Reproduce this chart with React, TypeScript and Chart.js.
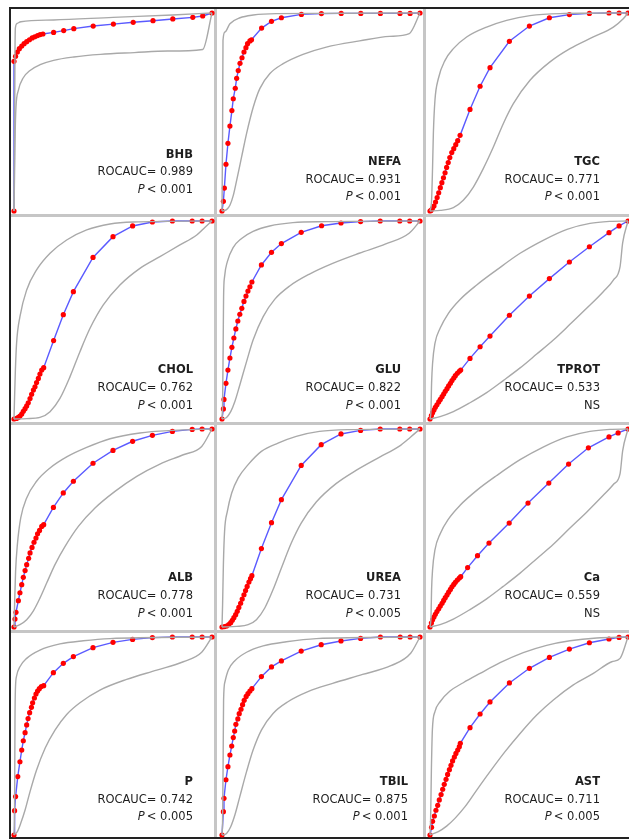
import React, { useEffect, useRef } from "react";
import { Chart, registerables } from "chart.js";

Chart.register(...registerables);

type Pt = [number, number];

// ---------- BHB ----------
const bhbRoc: Pt[] = [[0,0],[0,0.756],[0.008,0.781],[0.017,0.803],[0.027,0.82],[0.039,0.833],[0.051,0.845],[0.064,0.855],[0.078,0.865],[0.092,0.874],[0.105,0.88],[0.119,0.886],[0.132,0.891],[0.146,0.894],[0.2,0.902],[0.251,0.911],[0.302,0.921],[0.4,0.934],[0.502,0.944],[0.602,0.953],[0.702,0.961],[0.802,0.97],[0.903,0.978],[0.953,0.985],[1,1]];
const bhbUpper: Pt[] = [[0,0],[0.003,0.4],[0.005,0.8],[0.007,0.925],[0.015,0.947],[0.035,0.956],[0.2,0.965],[0.5,0.978],[0.8,0.99],[1,1]];
const bhbLower: Pt[] = [[0,0],[0.003,0.2],[0.006,0.4],[0.01,0.525],[0.022,0.609],[0.047,0.673],[0.081,0.71],[0.132,0.739],[0.2,0.761],[0.302,0.778],[0.437,0.791],[0.607,0.8],[0.776,0.808],[0.953,0.816],[1,1]];

// ---------- NEFA ----------
const nefaRoc: Pt[] = [[0,0],[0.007,0.049],[0.012,0.116],[0.02,0.236],[0.03,0.342],[0.04,0.429],[0.05,0.507],[0.057,0.567],[0.067,0.62],[0.074,0.67],[0.082,0.709],[0.091,0.746],[0.101,0.774],[0.111,0.803],[0.121,0.825],[0.129,0.845],[0.141,0.859],[0.149,0.865],[0.2,0.924],[0.25,0.958],[0.3,0.976],[0.401,0.993],[0.502,0.997],[0.602,0.998],[0.701,0.998],[0.8,0.998],[0.899,0.998],[0.95,0.998],[1,1]];
const nefaUpper: Pt[] = [[0,0],[0.003,0.4],[0.005,0.862],[0.015,0.904],[0.04,0.946],[0.091,0.976],[0.158,0.99],[0.275,0.997],[1,1]];
const nefaLower: Pt[] = [[0,0],[0.023,0.007],[0.04,0.029],[0.057,0.079],[0.074,0.155],[0.099,0.273],[0.124,0.391],[0.158,0.525],[0.191,0.618],[0.242,0.694],[0.309,0.744],[0.409,0.791],[0.527,0.828],[0.695,0.859],[0.846,0.882],[0.946,0.896],[1,1]];

// ---------- TGC ----------
const tgcRoc: Pt[] = [[0,0],[0.005,0.003],[0.012,0.012],[0.02,0.025],[0.028,0.045],[0.036,0.068],[0.044,0.092],[0.052,0.118],[0.06,0.143],[0.068,0.168],[0.076,0.193],[0.084,0.22],[0.092,0.245],[0.1,0.27],[0.11,0.295],[0.12,0.315],[0.13,0.335],[0.14,0.355],[0.152,0.382],[0.202,0.513],[0.253,0.63],[0.303,0.724],[0.401,0.857],[0.502,0.934],[0.603,0.976],[0.704,0.992],[0.805,0.998],[0.904,1],[0.955,1],[1,1]];
const tgcUpper: Pt[] = [[0,0],[0.008,0.054],[0.013,0.222],[0.017,0.391],[0.025,0.559],[0.042,0.668],[0.076,0.761],[0.118,0.82],[0.185,0.879],[0.286,0.929],[0.387,0.963],[0.505,0.987],[0.657,0.997],[1,1]];
const tgcLower: Pt[] = [[0,0],[0.051,0.003],[0.118,0.017],[0.168,0.054],[0.219,0.121],[0.269,0.214],[0.32,0.323],[0.37,0.441],[0.421,0.542],[0.505,0.66],[0.606,0.753],[0.707,0.82],[0.825,0.879],[0.926,0.929],[0.976,0.971],[1,1]];

// ---------- CHOL ----------
const cholRoc: Pt[] = [[0,0],[0.013,0.003],[0.022,0.008],[0.03,0.015],[0.039,0.025],[0.047,0.039],[0.056,0.052],[0.064,0.066],[0.072,0.082],[0.081,0.103],[0.089,0.125],[0.098,0.146],[0.106,0.163],[0.114,0.184],[0.123,0.205],[0.131,0.227],[0.14,0.247],[0.15,0.259],[0.2,0.396],[0.249,0.527],[0.3,0.643],[0.399,0.816],[0.5,0.921],[0.599,0.975],[0.699,0.995],[0.8,1],[0.9,1],[0.95,1],[1,1]];
const cholUpper: Pt[] = [[0,0],[0.003,0.113],[0.007,0.247],[0.013,0.382],[0.03,0.517],[0.064,0.652],[0.114,0.753],[0.182,0.837],[0.266,0.904],[0.367,0.955],[0.485,0.985],[0.603,0.995],[1,1]];
const cholLower: Pt[] = [[0,0],[0.064,0.002],[0.131,0.008],[0.182,0.037],[0.232,0.104],[0.283,0.214],[0.333,0.34],[0.384,0.458],[0.451,0.576],[0.535,0.677],[0.636,0.761],[0.737,0.82],[0.838,0.879],[0.923,0.929],[0.965,0.968],[1,1]];

// ---------- GLU ----------
const gluRoc: Pt[] = [[0,0],[0.007,0.051],[0.01,0.099],[0.02,0.18],[0.03,0.247],[0.04,0.308],[0.05,0.362],[0.06,0.409],[0.07,0.455],[0.08,0.495],[0.09,0.529],[0.1,0.559],[0.111,0.594],[0.121,0.621],[0.131,0.646],[0.141,0.668],[0.151,0.692],[0.199,0.778],[0.25,0.842],[0.3,0.886],[0.4,0.943],[0.503,0.976],[0.601,0.99],[0.7,0.997],[0.799,1],[0.898,1],[0.948,1],[1,1]];
const gluUpper: Pt[] = [[0,0],[0.003,0.079],[0.006,0.382],[0.008,0.618],[0.013,0.719],[0.027,0.795],[0.057,0.867],[0.099,0.912],[0.157,0.948],[0.241,0.975],[0.358,0.992],[0.526,0.997],[1,1]];
const gluLower: Pt[] = [[0,0],[0.023,0.008],[0.044,0.037],[0.065,0.088],[0.09,0.172],[0.124,0.29],[0.157,0.399],[0.208,0.517],[0.266,0.604],[0.342,0.672],[0.442,0.732],[0.559,0.786],[0.693,0.837],[0.827,0.884],[0.945,0.938],[1,1]];

// ---------- TPROT ----------
const tprotRoc: Pt[] = [[0,0],[0.007,0.017],[0.013,0.032],[0.02,0.045],[0.027,0.059],[0.035,0.072],[0.044,0.086],[0.052,0.099],[0.061,0.113],[0.069,0.126],[0.077,0.14],[0.086,0.153],[0.094,0.167],[0.103,0.18],[0.111,0.194],[0.12,0.207],[0.128,0.219],[0.138,0.231],[0.148,0.241],[0.155,0.247],[0.202,0.306],[0.253,0.365],[0.303,0.419],[0.401,0.524],[0.502,0.621],[0.603,0.709],[0.704,0.793],[0.805,0.87],[0.904,0.941],[0.955,0.975],[1,1]];
const tprotUpper: Pt[] = [[0,0],[0.005,0.045],[0.008,0.18],[0.013,0.281],[0.025,0.382],[0.051,0.458],[0.093,0.534],[0.152,0.604],[0.236,0.677],[0.337,0.753],[0.455,0.837],[0.574,0.904],[0.692,0.958],[0.808,0.988],[0.909,0.998],[1,1]];
const tprotLower: Pt[] = [[0,0],[0.051,0.012],[0.118,0.037],[0.202,0.082],[0.286,0.133],[0.37,0.194],[0.455,0.258],[0.539,0.328],[0.623,0.399],[0.707,0.478],[0.791,0.559],[0.875,0.643],[0.926,0.702],[0.96,0.77],[0.973,0.889],[1,1]];

// ---------- ALB ----------
const albRoc: Pt[] = [[0,0],[0.005,0.04],[0.01,0.074],[0.022,0.133],[0.03,0.173],[0.039,0.214],[0.047,0.251],[0.056,0.285],[0.064,0.315],[0.074,0.347],[0.081,0.374],[0.091,0.402],[0.101,0.428],[0.111,0.449],[0.119,0.471],[0.129,0.488],[0.14,0.508],[0.15,0.517],[0.199,0.604],[0.249,0.677],[0.3,0.736],[0.399,0.827],[0.5,0.892],[0.599,0.938],[0.699,0.968],[0.8,0.988],[0.9,0.998],[0.95,1],[1,1]];
const albUpper: Pt[] = [[0,0],[0.003,0.113],[0.008,0.281],[0.017,0.416],[0.034,0.551],[0.064,0.652],[0.114,0.736],[0.182,0.803],[0.266,0.859],[0.367,0.907],[0.485,0.951],[0.636,0.98],[0.805,0.993],[1,1]];
const albLower: Pt[] = [[0,0],[0.03,0.012],[0.064,0.037],[0.098,0.082],[0.131,0.146],[0.165,0.222],[0.207,0.315],[0.258,0.407],[0.325,0.508],[0.409,0.601],[0.51,0.685],[0.62,0.761],[0.737,0.823],[0.855,0.87],[0.948,0.912],[1,1]];

// ---------- UREA ----------
const ureaRoc: Pt[] = [[0,0],[0.013,0.002],[0.023,0.005],[0.034,0.012],[0.044,0.022],[0.052,0.034],[0.06,0.047],[0.069,0.062],[0.077,0.079],[0.085,0.099],[0.094,0.12],[0.102,0.141],[0.111,0.163],[0.119,0.184],[0.127,0.205],[0.136,0.227],[0.144,0.244],[0.151,0.259],[0.199,0.396],[0.25,0.527],[0.3,0.643],[0.4,0.816],[0.501,0.921],[0.601,0.975],[0.7,0.993],[0.799,1],[0.898,1],[0.948,1],[1,1]];
const ureaUpper: Pt[] = [[0,0],[0.003,0.113],[0.007,0.315],[0.013,0.483],[0.027,0.584],[0.049,0.677],[0.082,0.753],[0.132,0.82],[0.199,0.887],[0.283,0.929],[0.375,0.963],[0.492,0.988],[0.643,0.997],[1,1]];
const ureaLower: Pt[] = [[0,0],[0.074,0.003],[0.132,0.012],[0.174,0.037],[0.216,0.096],[0.258,0.189],[0.3,0.298],[0.35,0.424],[0.4,0.525],[0.476,0.631],[0.576,0.724],[0.677,0.791],[0.794,0.857],[0.894,0.912],[0.953,0.96],[1,1]];

// ---------- Ca ----------
const caRoc: Pt[] = [[0,0],[0.007,0.02],[0.013,0.036],[0.02,0.05],[0.027,0.064],[0.035,0.078],[0.044,0.092],[0.052,0.106],[0.061,0.12],[0.069,0.134],[0.077,0.148],[0.086,0.162],[0.094,0.176],[0.103,0.19],[0.111,0.203],[0.12,0.215],[0.128,0.226],[0.138,0.237],[0.148,0.247],[0.155,0.254],[0.19,0.3],[0.24,0.36],[0.298,0.424],[0.4,0.525],[0.495,0.626],[0.6,0.727],[0.7,0.823],[0.8,0.905],[0.904,0.96],[0.95,0.98],[1,1]];
const caUpper: Pt[] = [[0,0],[0.005,0.05],[0.008,0.19],[0.013,0.29],[0.025,0.39],[0.051,0.47],[0.093,0.545],[0.152,0.615],[0.236,0.69],[0.337,0.765],[0.455,0.845],[0.574,0.91],[0.692,0.96],[0.808,0.988],[0.909,0.998],[1,1]];
const caLower: Pt[] = [[0,0],[0.051,0.012],[0.118,0.04],[0.202,0.088],[0.286,0.142],[0.37,0.205],[0.455,0.272],[0.539,0.345],[0.623,0.418],[0.707,0.5],[0.791,0.58],[0.875,0.665],[0.926,0.72],[0.96,0.775],[0.973,0.89],[1,1]];

// ---------- P ----------
const pRoc: Pt[] = [[0,0],[0.003,0.123],[0.008,0.194],[0.019,0.295],[0.03,0.37],[0.039,0.429],[0.047,0.476],[0.056,0.517],[0.064,0.556],[0.071,0.588],[0.079,0.618],[0.088,0.645],[0.094,0.668],[0.103,0.692],[0.111,0.712],[0.119,0.727],[0.128,0.739],[0.138,0.75],[0.15,0.754],[0.199,0.82],[0.249,0.867],[0.3,0.901],[0.399,0.946],[0.5,0.973],[0.599,0.988],[0.699,0.997],[0.8,1],[0.9,1],[0.95,1],[1,1]];
const pUpper: Pt[] = [[0,0],[0.003,0.143],[0.005,0.581],[0.007,0.732],[0.013,0.803],[0.03,0.85],[0.064,0.892],[0.131,0.934],[0.232,0.965],[0.35,0.981],[0.485,0.992],[1,1]];
const pLower: Pt[] = [[0,0],[0.017,0.017],[0.034,0.059],[0.056,0.126],[0.081,0.219],[0.114,0.328],[0.157,0.438],[0.207,0.53],[0.266,0.609],[0.333,0.668],[0.434,0.732],[0.569,0.786],[0.721,0.833],[0.855,0.875],[0.948,0.923],[1,1]];

// ---------- TBIL ----------
const tbilRoc: Pt[] = [[0,0],[0.007,0.118],[0.01,0.185],[0.02,0.279],[0.03,0.345],[0.04,0.404],[0.049,0.449],[0.057,0.492],[0.064,0.525],[0.07,0.559],[0.08,0.586],[0.087,0.613],[0.096,0.635],[0.104,0.658],[0.112,0.68],[0.122,0.7],[0.131,0.714],[0.141,0.727],[0.151,0.739],[0.199,0.8],[0.25,0.849],[0.3,0.879],[0.4,0.929],[0.501,0.961],[0.601,0.98],[0.7,0.993],[0.8,1],[0.9,1],[0.95,1],[1,1]];
const tbilUpper: Pt[] = [[0,0],[0.003,0.076],[0.006,0.412],[0.008,0.682],[0.015,0.774],[0.032,0.833],[0.065,0.88],[0.124,0.923],[0.208,0.955],[0.325,0.976],[0.476,0.992],[1,1]];
const tbilLower: Pt[] = [[0,0],[0.023,0.008],[0.044,0.042],[0.065,0.101],[0.09,0.194],[0.124,0.32],[0.157,0.429],[0.199,0.53],[0.258,0.614],[0.333,0.673],[0.434,0.724],[0.559,0.766],[0.71,0.811],[0.853,0.855],[0.953,0.918],[1,1]];

// ---------- AST ----------
const astRoc: Pt[] = [[0,0],[0.008,0.039],[0.013,0.069],[0.022,0.096],[0.03,0.125],[0.039,0.15],[0.047,0.177],[0.056,0.204],[0.064,0.231],[0.072,0.256],[0.081,0.281],[0.089,0.306],[0.098,0.33],[0.106,0.352],[0.114,0.374],[0.123,0.394],[0.131,0.412],[0.14,0.429],[0.148,0.446],[0.153,0.463],[0.202,0.542],[0.253,0.611],[0.303,0.672],[0.401,0.768],[0.502,0.842],[0.603,0.897],[0.704,0.939],[0.805,0.971],[0.904,0.99],[0.955,0.998],[1,1]];
const astUpper: Pt[] = [[0,0],[0.003,0.076],[0.007,0.328],[0.012,0.53],[0.025,0.623],[0.051,0.673],[0.101,0.727],[0.168,0.769],[0.253,0.816],[0.354,0.87],[0.471,0.921],[0.589,0.958],[0.707,0.981],[0.842,0.995],[1,1]];
const astLower: Pt[] = [[0,0],[0.042,0.017],[0.084,0.045],[0.126,0.084],[0.177,0.143],[0.236,0.227],[0.303,0.32],[0.379,0.421],[0.455,0.513],[0.539,0.606],[0.623,0.682],[0.724,0.758],[0.825,0.816],[0.918,0.875],[0.96,0.892],[1,1]];

// ---------- labels ----------
const panelNames = ["BHB", "NEFA", "TGC", "CHOL", "GLU", "TPROT", "ALB", "UREA", "Ca", "P", "TBIL", "AST"];
const aucValues = ["0.989", "0.931", "0.771", "0.762", "0.822", "0.533", "0.778", "0.731", "0.559", "0.742", "0.875", "0.711"];
const pValues = ["0.001", "0.001", "0.001", "0.001", "0.001", "NS", "0.001", "0.005", "NS", "0.005", "0.001", "0.005"];
const rocCurves = [bhbRoc, nefaRoc, tgcRoc, cholRoc, gluRoc, tprotRoc, albRoc, ureaRoc, caRoc, pRoc, tbilRoc, astRoc];
const upperCurves = [bhbUpper, nefaUpper, tgcUpper, cholUpper, gluUpper, tprotUpper, albUpper, ureaUpper, caUpper, pUpper, tbilUpper, astUpper];
const lowerCurves = [bhbLower, nefaLower, tgcLower, cholLower, gluLower, tprotLower, albLower, ureaLower, caLower, pLower, tbilLower, astLower];

// ---------- layout (pixels) ----------
const PLOT = 198;
const STEP = 208;
const PAD = 5;
const ORIGIN_X = 14;
const ORIGIN_Y = 13;
const textRight = [179, 179, 170, 179, 179, 170, 179, 179, 170, 179, 186, 170];
const textBase = [
  [-53, -36, -18], [-46, -28, -11], [-46, -28, -11],
  [-46, -28, -10], [-46, -28, -10], [-46, -28, -10],
  [-46, -28, -10], [-46, -28, -10], [-46, -28, -10],
  [-50, -32, -15], [-50, -32, -15], [-50, -32, -15],
];

const FONT = "'DejaVu Sans', sans-serif";
const FONT_SIZE = "11.5px";

function Panel({ index }: { index: number }) {
  const ref = useRef<HTMLCanvasElement | null>(null);
  const col = index % 3;
  const row = Math.floor(index / 3);
  const left = ORIGIN_X + STEP * col - PAD;
  const top = ORIGIN_Y + STEP * row - PAD;
  const size = PLOT + PAD * 2;

  useEffect(() => {
    if (!ref.current) return;
    const toXY = (arr: Pt[]) => arr.map(([x, y]) => ({ x, y }));
    const textPlugin = {
      id: "rocText",
      afterDraw(chart: any) {
        const { ctx, chartArea } = chart;
        const xr = chartArea.left + textRight[index];
        const b = chartArea.bottom;
        const [b1, b2, b3] = textBase[index];
        ctx.save();
        ctx.fillStyle = "#1e1e1e";
        ctx.textAlign = "right";
        ctx.textBaseline = "alphabetic";
        ctx.font = `bold ${FONT_SIZE} ${FONT}`;
        ctx.fillText(panelNames[index], xr, b + b1);
        ctx.font = `${FONT_SIZE} ${FONT}`;
        ctx.fillText(`ROCAUC= ${aucValues[index]}`, xr, b + b2);
        const pv = pValues[index];
        if (pv === "NS") {
          ctx.fillText("NS", xr, b + b3);
        } else {
          const rest = `< ${pv}`;
          ctx.fillText(rest, xr, b + b3);
          const w = ctx.measureText(rest).width;
          ctx.font = `italic ${FONT_SIZE} ${FONT}`;
          ctx.fillText("P", xr - w - 2, b + b3);
        }
        ctx.restore();
      },
    };
    const chart = new Chart(ref.current, {
      type: "scatter",
      data: {
        datasets: [
          {
            data: toXY(lowerCurves[index]),
            showLine: true,
            borderColor: "#a9a9a9",
            borderWidth: 1.4,
            pointRadius: 0,
            cubicInterpolationMode: "monotone",
            clip: false,
          } as any,
          {
            data: toXY(upperCurves[index]),
            showLine: true,
            borderColor: "#a9a9a9",
            borderWidth: 1.4,
            pointRadius: 0,
            cubicInterpolationMode: "monotone",
            clip: false,
          } as any,
          {
            data: toXY(rocCurves[index]),
            showLine: true,
            borderColor: "#5a5aff",
            borderWidth: 1.4,
            tension: 0,
            pointRadius: 2.6,
            pointBackgroundColor: "#ff0000",
            pointBorderWidth: 0,
            pointBorderColor: "#ff0000",
            clip: false,
          } as any,
        ],
      },
      options: {
        animation: false,
        responsive: false,
        maintainAspectRatio: false,
        events: [],
        layout: { padding: PAD },
        scales: {
          x: { type: "linear", min: 0, max: 1, display: false },
          y: { type: "linear", min: 0, max: 1, display: false },
        },
        plugins: { legend: { display: false }, tooltip: { enabled: false }, title: { display: false } },
      },
      plugins: [textPlugin],
    });
    return () => chart.destroy();
  }, [index]);

  return (
    <canvas
      ref={ref}
      width={size}
      height={size}
      style={{ position: "absolute", left, top, width: size, height: size }}
    />
  );
}

export default function App() {
  const gray = "#c6c6c6";
  const lines: React.ReactNode[] = [];
  [214, 423].forEach((x, i) =>
    lines.push(<div key={"v" + i} style={{ position: "absolute", left: x, top: 9, width: 3, height: 828, background: gray }} />)
  );
  [214, 422, 630].forEach((y, i) =>
    lines.push(<div key={"h" + i} style={{ position: "absolute", left: 11, top: y, width: 618, height: 3, background: gray }} />)
  );
  return (
    <div style={{ position: "absolute", left: 0, top: 0, width: 629, height: 839, overflow: "hidden", background: "#ffffff" }}>
      {lines}
      <div style={{ position: "absolute", left: 9, top: 7, width: 620, height: 2, background: "#222" }} />
      <div style={{ position: "absolute", left: 9, top: 7, width: 2, height: 832, background: "#222" }} />
      <div style={{ position: "absolute", left: 9, top: 837, width: 620, height: 2, background: "#222" }} />
      {panelNames.map((_, i) => (
        <Panel key={i} index={i} />
      ))}
    </div>
  );
}
